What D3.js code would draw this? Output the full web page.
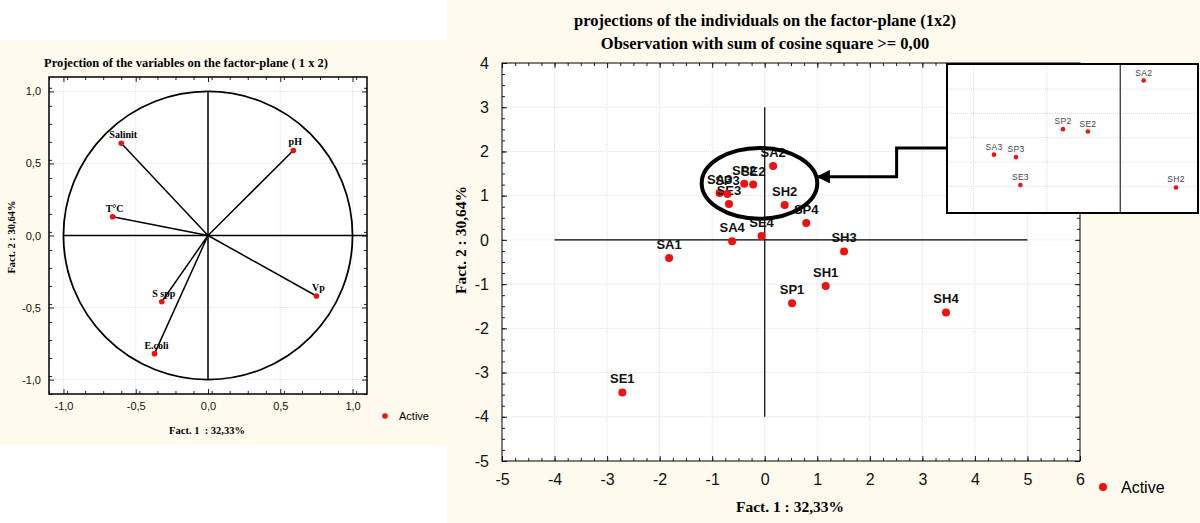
<!DOCTYPE html>
<html>
<head>
<meta charset="utf-8">
<script src="https://cdn.jsdelivr.net/npm/d3@7"></script>
<style>
  body { margin: 0; background: #fff; }
  svg { display: block; }
</style>
</head>
<body>
<svg width="1200" height="523"></svg>
<script>
// variables (left plot)
const variables = ["Salinit", "pH", "T°C", "S spp", "E.coli", "Vp"];
const varFact1 = [-0.60, 0.59, -0.66, -0.32, -0.37, 0.75];
const varFact2 = [0.64, 0.59, 0.13, -0.46, -0.82, -0.42];

// individuals (right plot)
const individuals = ["SA1", "SA2", "SA3", "SA4", "SE1", "SE2", "SE3", "SE4",
                     "SP1", "SP2", "SP3", "SP4", "SH1", "SH2", "SH3", "SH4"];
const indFact1 = [-1.82, 0.16, -0.86, -0.62, -2.71, -0.22, -0.68, -0.06,
                  0.52, -0.39, -0.71, 0.79, 1.16, 0.38, 1.51, 3.45];
const indFact2 = [-0.41, 1.67, 1.06, -0.03, -3.45, 1.25, 0.81, 0.09,
                  -1.43, 1.27, 1.04, 0.38, -1.04, 0.79, -0.26, -1.64];
const zoomed = ["SA2", "SA3", "SE2", "SE3", "SP2", "SP3", "SH2"];

// ticks
const leftTicks = [-1, -0.5, 0, 0.5, 1];
const rightXTicks = [-5, -4, -3, -2, -1, 0, 1, 2, 3, 4, 5, 6];
const rightYTicks = [-5, -4, -3, -2, -1, 0, 1, 2, 3, 4];
const insetXGrid = [-1, -0.5];
const insetYGrid = [0.8, 1.0, 1.2, 1.4, 1.6];

const svg = d3.select("svg");
const SERIF = "'Liberation Serif', 'Times New Roman', serif";
const SANS = "'Liberation Sans', Arial, sans-serif";
const CREAM = "#fffaee";
const RED = "#f01010";

// backgrounds
svg.append("rect").attr("x", 0).attr("y", 40).attr("width", 447).attr("height", 405).attr("fill", CREAM);
svg.append("rect").attr("x", 447).attr("y", 0).attr("width", 753).attr("height", 523).attr("fill", CREAM);

// draws white plot area, dotted grid, inside ticks and labels
function frame(x, y, cfg) {
    const [x0, x1] = x.range(), [y0, y1] = y.range();
    const g = svg.append("g");
    g.append("rect").attr("x", x0).attr("y", y1).attr("width", x1 - x0).attr("height", y0 - y1).attr("fill", "#fff");

    g.append("g").selectAll("line").data(cfg.grid).enter().append("line")
        .attr("x1", d => x(d)).attr("x2", d => x(d)).attr("y1", y0).attr("y2", y1)
        .attr("stroke", "#e2e2e2").attr("stroke-dasharray", "1,1");
    g.append("g").selectAll("line").data(cfg.gridY).enter().append("line")
        .attr("y1", d => y(d)).attr("y2", d => y(d)).attr("x1", x0).attr("x2", x1)
        .attr("stroke", "#e2e2e2").attr("stroke-dasharray", "1,1");

    const minorX = d3.range(x.domain()[0], x.domain()[1] + 1e-9, cfg.minor);
    const minorY = d3.range(y.domain()[0], y.domain()[1] + 1e-9, cfg.minor);

    const axes = [
        [d3.axisBottom(x), `translate(0,${y0})`, cfg.xTicks, minorX, true],
        [d3.axisTop(x), `translate(0,${y1})`, cfg.xTicks, minorX, false],
        [d3.axisLeft(y), `translate(${x0},0)`, cfg.yTicks, minorY, true],
        [d3.axisRight(y), `translate(${x1},0)`, cfg.yTicks, minorY, false]
    ];
    axes.forEach(([ax, tr, major, minor, labelled]) => {
        const a1 = g.append("g").attr("transform", tr)
            .call(ax.tickValues(minor).tickFormat("").tickSizeInner(-3).tickSizeOuter(0));
        a1.select(".domain").remove();
        a1.selectAll("line").attr("stroke", "#222");
        const a2 = g.append("g").attr("transform", tr)
            .call(ax.tickValues(major).tickFormat(labelled ? cfg.fmt : "").tickSizeInner(-5).tickPadding(cfg.pad));
        a2.select(".domain").remove();
        a2.selectAll("line").attr("stroke", "#222");
        a2.selectAll("text").attr("font-family", SANS).attr("font-size", cfg.fontSize).attr("fill", "#111");
    });

    g.append("rect").attr("x", x0).attr("y", y1).attr("width", x1 - x0).attr("height", y0 - y1)
        .attr("fill", "none").attr("stroke", "#000").attr("stroke-width", cfg.border);
    return g;
}

// ---------- left: variables ----------
const lx = d3.scaleLinear().domain([-1.1, 1.1]).range([49, 367]);
const ly = d3.scaleLinear().domain([-1.1, 1.1]).range([394, 77]);
const commaFmt = d => d3.format(".1f")(d).replace(".", ",").replace("−", "-");

frame(lx, ly, {
    grid: [-1, -0.5, 0.5, 1], gridY: [-1, -0.5, 0.5, 1],
    xTicks: leftTicks, yTicks: leftTicks, minor: 0.125,
    fmt: commaFmt, pad: 8, fontSize: "11px", border: 1.5
});

const lp = svg.append("g");
lp.append("ellipse").attr("cx", lx(0)).attr("cy", ly(0))
    .attr("rx", lx(1) - lx(0)).attr("ry", ly(0) - ly(1))
    .attr("fill", "none").attr("stroke", "#000").attr("stroke-width", 1.8);
lp.append("line").attr("x1", lx(-1)).attr("x2", lx(1.1)).attr("y1", ly(0)).attr("y2", ly(0))
    .attr("stroke", "#000").attr("stroke-width", 1.5);
lp.append("line").attr("x1", lx(0)).attr("x2", lx(0)).attr("y1", ly(1)).attr("y2", ly(-1))
    .attr("stroke", "#000").attr("stroke-width", 1.5);

variables.forEach((v, i) => {
    lp.append("line").attr("x1", lx(0)).attr("y1", ly(0))
        .attr("x2", lx(varFact1[i])).attr("y2", ly(varFact2[i]))
        .attr("stroke", "#000").attr("stroke-width", 1.5);
    lp.append("circle").attr("cx", lx(varFact1[i])).attr("cy", ly(varFact2[i])).attr("r", 2.8).attr("fill", RED);
    lp.append("text").attr("x", lx(varFact1[i]) + 2).attr("y", ly(varFact2[i]) - 5)
        .attr("text-anchor", "middle").attr("font-family", SERIF).attr("font-weight", "bold")
        .attr("font-size", "10px").text(v);
});

svg.append("text").attr("x", 186).attr("y", 67).attr("text-anchor", "middle")
    .attr("font-family", SERIF).attr("font-weight", "bold").attr("font-size", "12.5px")
    .text("Projection of the variables on the factor-plane ( 1 x 2)");
svg.append("text").attr("x", 207).attr("y", 434).attr("text-anchor", "middle")
    .attr("font-family", SERIF).attr("font-weight", "bold").attr("font-size", "10.5px")
    .attr("xml:space", "preserve").text("Fact. 1  : 32,33%");
svg.append("text").attr("transform", "translate(15,237) rotate(-90)").attr("text-anchor", "middle")
    .attr("font-family", SERIF).attr("font-weight", "bold").attr("font-size", "10.5px")
    .text("Fact. 2 : 30,64%");
svg.append("circle").attr("cx", 385).attr("cy", 416).attr("r", 2.8).attr("fill", RED);
svg.append("text").attr("x", 399).attr("y", 420).attr("font-family", SANS).attr("font-size", "11px").text("Active");

// ---------- right: individuals ----------
const rx = d3.scaleLinear().domain([-5, 6]).range([502, 1080]);
const ry = d3.scaleLinear().domain([-5, 4]).range([461, 63]);

frame(rx, ry, {
    grid: rightXTicks.slice(1, -1), gridY: rightYTicks.slice(1, -1),
    xTicks: rightXTicks, yTicks: rightYTicks, minor: 0.25,
    fmt: d => d3.format("d")(d).replace("−", "-"), pad: 13, fontSize: "16px", border: 1
});

const rp = svg.append("g");
rp.append("line").attr("x1", rx(-4)).attr("x2", rx(5)).attr("y1", ry(0)).attr("y2", ry(0))
    .attr("stroke", "#000").attr("stroke-width", 1.2);
rp.append("line").attr("x1", rx(0)).attr("x2", rx(0)).attr("y1", ry(3)).attr("y2", ry(-4))
    .attr("stroke", "#000").attr("stroke-width", 1.2);

individuals.forEach((s, i) => {
    rp.append("circle").attr("cx", rx(indFact1[i])).attr("cy", ry(indFact2[i])).attr("r", 4).attr("fill", RED);
    rp.append("text").attr("x", rx(indFact1[i])).attr("y", ry(indFact2[i]) - 9)
        .attr("text-anchor", "middle").attr("font-family", SANS).attr("font-weight", "bold")
        .attr("font-size", "13px").attr("fill", "#111").text(s);
});

// highlight ellipse + arrow to the zoom box
const ringCenter = [-0.1, 1.28], ringRadius = [1.1, 0.8];
rp.append("ellipse").attr("cx", rx(ringCenter[0])).attr("cy", ry(ringCenter[1]))
    .attr("rx", rx(ringRadius[0]) - rx(0)).attr("ry", ry(0) - ry(ringRadius[1]))
    .attr("fill", "none").attr("stroke", "#000").attr("stroke-width", 4);

svg.append("defs").append("marker").attr("id", "head")
    .attr("viewBox", "0 0 10 10").attr("refX", 9).attr("refY", 5)
    .attr("markerWidth", 4.5).attr("markerHeight", 4.5).attr("orient", "auto")
    .append("path").attr("d", "M0,0L10,5L0,10z").attr("fill", "#000");
const arrowPts = [[3.47, 2.08], [2.51, 2.08], [2.51, 1.43], [1.01, 1.43]];
rp.append("path")
    .attr("d", d3.line().x(d => rx(d[0])).y(d => ry(d[1]))(arrowPts))
    .attr("fill", "none").attr("stroke", "#000").attr("stroke-width", 3)
    .attr("marker-end", "url(#head)");

svg.append("text").attr("x", 765).attr("y", 26).attr("text-anchor", "middle")
    .attr("font-family", SERIF).attr("font-weight", "bold").attr("font-size", "16.5px")
    .text("projections of the individuals on the factor-plane (1x2)");
svg.append("text").attr("x", 765).attr("y", 49).attr("text-anchor", "middle")
    .attr("font-family", SERIF).attr("font-weight", "bold").attr("font-size", "16.5px")
    .text("Observation with sum of cosine square >= 0,00");
svg.append("text").attr("x", 790).attr("y", 512).attr("text-anchor", "middle")
    .attr("font-family", SERIF).attr("font-weight", "bold").attr("font-size", "15.5px")
    .text("Fact. 1 : 32,33%");
svg.append("text").attr("transform", "translate(466,240) rotate(-90)").attr("text-anchor", "middle")
    .attr("font-family", SERIF).attr("font-weight", "bold").attr("font-size", "15.5px")
    .text("Fact. 2 : 30,64%");
svg.append("circle").attr("cx", 1103).attr("cy", 487).attr("r", 4).attr("fill", RED);
svg.append("text").attr("x", 1121).attr("y", 493).attr("font-family", SANS).attr("font-size", "16px").text("Active");

// ---------- inset zoom box ----------
const ix = d3.scaleLinear().domain([-1.18, 0.53]).range([947, 1198]);
const iy = d3.scaleLinear().domain([0.58, 1.806]).range([213, 64]);
const ins = svg.append("g");
ins.append("rect").attr("x", 947).attr("y", 64).attr("width", 251).attr("height", 149).attr("fill", "#fff");
ins.selectAll(".gx").data(insetXGrid).enter().append("line")
    .attr("x1", d => ix(d)).attr("x2", d => ix(d)).attr("y1", 64).attr("y2", 213)
    .attr("stroke", "#dcdcdc").attr("stroke-dasharray", "1,1");
ins.selectAll(".gy").data(insetYGrid).enter().append("line")
    .attr("y1", d => iy(d)).attr("y2", d => iy(d)).attr("x1", 947).attr("x2", 1198)
    .attr("stroke", "#dcdcdc").attr("stroke-dasharray", "1,1");
ins.append("line").attr("x1", ix(0)).attr("x2", ix(0)).attr("y1", 64).attr("y2", 213)
    .attr("stroke", "#000").attr("stroke-width", 1);
individuals.forEach((s, i) => {
    if (!zoomed.includes(s)) return;
    ins.append("circle").attr("cx", ix(indFact1[i])).attr("cy", iy(indFact2[i])).attr("r", 2.3).attr("fill", RED);
    ins.append("text").attr("x", ix(indFact1[i])).attr("y", iy(indFact2[i]) - 5)
        .attr("text-anchor", "middle").attr("font-family", SANS).attr("font-size", "8.5px")
        .attr("fill", "#444").attr("letter-spacing", "0.3px").text(s);
});
ins.append("rect").attr("x", 947).attr("y", 64).attr("width", 251).attr("height", 149)
    .attr("fill", "none").attr("stroke", "#000").attr("stroke-width", 2);
</script>
</body>
</html>
